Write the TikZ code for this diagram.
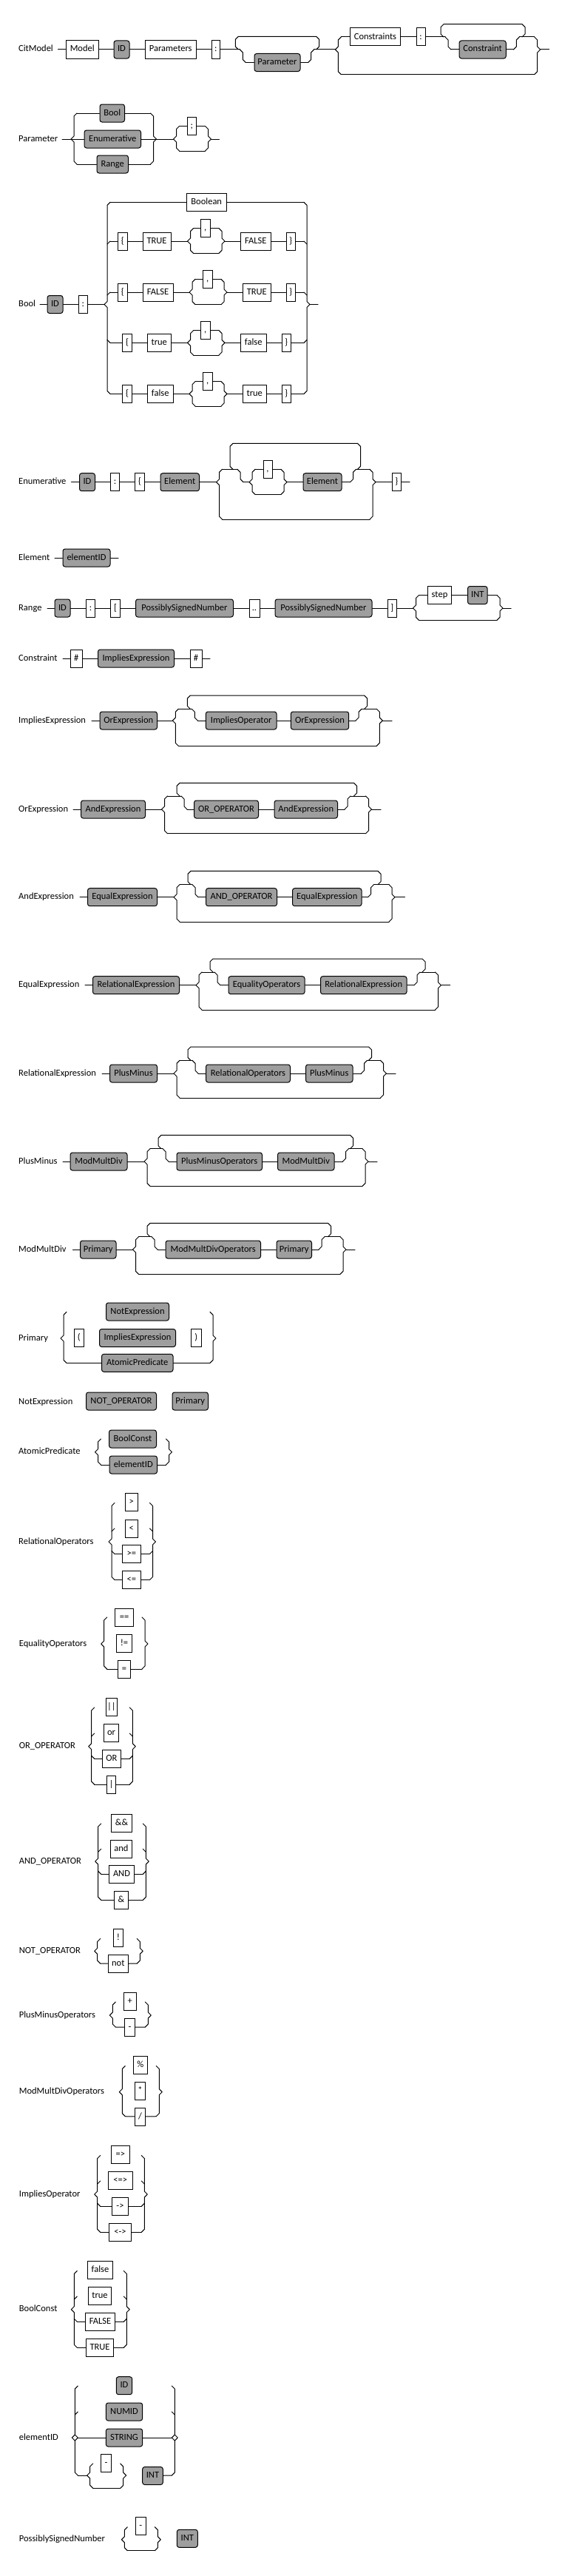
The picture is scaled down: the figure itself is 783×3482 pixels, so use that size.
\documentclass[tikz,border=0pt]{standalone}
\usepackage{fontspec}
\setmainfont{Carlito}
\definecolor{boxgray}{RGB}{158,158,158}
\newcommand\rrfont{\fontsize{12.5pt}{15pt}\selectfont}
\newcommand\rrc{4}
\newcommand\rrt{4}
\tikzset{
 rail/.style={line width=1pt, line cap=round, line join=round},
 tbox/.style={draw, line width=1pt, fill=white, inner sep=0pt, minimum height=24pt, text height=8.5pt, text depth=2.5pt, font=\rrfont},
 gbox/.style={tbox, fill=boxgray, rounded corners=3pt},
 lbl/.style={anchor=west, inner sep=0pt, font=\rrfont, text height=8.5pt, text depth=2.5pt},
}
% box: style, name, x1, x2, y, text
\newcommand\rrbox[6]{\pgfmathsetmacro\rrw{#4-#3}\pgfmathsetmacro\rrx{(#3+#4)/2}\node[#1, minimum width=\rrw pt] (#2) at (\rrx,#5) {#6};}
% left brace: name, x, yT, yM, yB
\newcommand\rrlb[5]{%
 \coordinate (#1-t) at (#2+\rrc,#3);
 \coordinate (#1-b) at (#2+\rrc,#5);
 \coordinate (#1-m) at (#2-\rrt,#4);
 \draw[rail] (#1-t) -- (#2,#3+\rrc) -- (#2,#4-\rrc) -- (#1-m) -- (#2,#4+\rrc) -- (#2,#5-\rrc) -- (#1-b);}
% right brace
\newcommand\rrrb[5]{%
 \coordinate (#1-t) at (#2-\rrc,#3);
 \coordinate (#1-b) at (#2-\rrc,#5);
 \coordinate (#1-m) at (#2+\rrt,#4);
 \draw[rail] (#1-t) -- (#2,#3+\rrc) -- (#2,#4-\rrc) -- (#1-m) -- (#2,#4+\rrc) -- (#2,#5-\rrc) -- (#1-b);}
% joints: name, x, y, sign (+ above main, - below main)
\newcommand\rrlj[4]{\coordinate (#1) at (#2+\rrc,#3); \draw[rail] (#2,#3#4\rrc) -- (#1);}
\newcommand\rrrj[4]{\coordinate (#1) at (#2-\rrc,#3); \draw[rail] (#1) -- (#2,#3#4\rrc);}
% loop: name, xo, xi, xi2, xo2, yT, yM, yB
\newcommand\rrloop[8]{%
 \coordinate (#1-in) at (#3-\rrc,#7);
 \coordinate (#1-fs) at (#3+\rrc,#8);
 \coordinate (#1-fe) at (#4-\rrc,#8);
 \coordinate (#1-out) at (#4+\rrc,#7);
 \draw[rail] (#2+\rrc,#7) -- (#2,#7-\rrc) -- (#2,#6+\rrc) -- (#2+\rrc,#6) -- (#5-\rrc,#6) -- (#5,#6+\rrc) -- (#5,#7-\rrc) -- (#5-\rrc,#7);
 \draw[rail] (#1-in) -- (#3,#7+\rrc) -- (#3,#8-\rrc) -- (#1-fs);
 \draw[rail] (#1-fe) -- (#4,#8-\rrc) -- (#4,#7+\rrc) -- (#1-out);}
\begin{document}
\begin{tikzpicture}[x=1pt,y=-1pt]
\useasboundingbox (0,0) rectangle (783,3482);
\fill[white] (0,0) rectangle (783,3482);

% ---------- CitModel
\node[lbl] (L1) at (25,67) {CitModel};
\coordinate (s1) at (78.5,67);
\rrbox{tbox}{model}{89}{133.5}{67}{Model}
\rrbox{gbox}{idA}{154}{175}{67}{ID}
\rrbox{tbox}{params}{196.5}{265}{67}{Parameters}
\rrbox{tbox}{colA}{286}{297.5}{67}{:}
\rrloop{lpA}{318.3}{328.3}{420.7}{431.7}{49.3}{67}{84.5}
\rrbox{gbox}{param}{344}{406}{84.5}{Parameter}
\rrlb{obA}{457.3}{50}{67}{100.7}
\rrbox{tbox}{constrs}{473.3}{541.7}{50}{Constraints}
\rrbox{tbox}{colB}{563.3}{575}{50}{:}
\rrloop{lpB}{596}{606}{698.3}{710}{32.7}{50}{67}
\rrbox{gbox}{cons}{621}{684.3}{67}{Constraint}
\rrrb{obB}{726.7}{50}{67}{100.7}
\coordinate (e1) at (742.7,67);
\draw[rail] (s1) -- (model); \draw[rail] (model) -- (idA); \draw[rail] (idA) -- (params);
\draw[rail] (params) -- (colA); \draw[rail] (colA) -- (lpA-in);
\draw[rail] (lpA-fs) -- (param); \draw[rail] (param) -- (lpA-fe);
\draw[rail] (lpA-out) -- (obA-m);
\draw[rail] (obA-t) -- (constrs); \draw[rail] (constrs) -- (colB); \draw[rail] (colB) -- (lpB-in);
\draw[rail] (lpB-fs) -- (cons); \draw[rail] (cons) -- (lpB-fe);
\draw[rail] (lpB-out) -- (obB-t); \draw[rail] (obA-b) -- (obB-b);
\draw[rail] (obB-m) -- (e1);

% ---------- Parameter
\node[lbl] (L2) at (25,188) {Parameter};
\coordinate (s2) at (84,188);
\rrlb{pb1}{100}{153}{188}{222}
\rrbox{gbox}{pbool}{135}{168.5}{153}{Bool}
\rrbox{gbox}{penum}{114}{190.5}{188}{Enumerative}
\rrbox{gbox}{prange}{131}{173.5}{222}{Range}
\rrrb{pb2}{207.5}{153}{188}{222}
\rrlb{pc1}{238.5}{170.5}{188}{204}
\rrbox{tbox}{psemi}{253.5}{265}{170.5}{;}
\rrrb{pc2}{281.5}{170.5}{188}{204}
\coordinate (e2) at (296.5,188);
\draw[rail] (s2) -- (pb1-m);
\draw[rail] (pb1-t) -- (pbool); \draw[rail] (pbool) -- (pb2-t);
\draw[rail] (pb1-m) -- (penum); \draw[rail] (penum) -- (pb2-m);
\draw[rail] (pb1-b) -- (prange); \draw[rail] (prange) -- (pb2-b);
\draw[rail] (pb2-m) -- (pc1-m);
\draw[rail] (pc1-t) -- (psemi); \draw[rail] (psemi) -- (pc2-t);
\draw[rail] (pc1-b) -- (pc2-b);
\draw[rail] (pc2-m) -- (e2);

% ---------- Bool
\node[lbl] (L3) at (25,411.5) {Bool};
\coordinate (s3) at (54,411.5);
\rrbox{gbox}{bid}{64}{85}{411.5}{ID}
\rrbox{tbox}{bcol}{106}{118.5}{411.5}{:}
\rrlb{bb1}{145}{273.3}{411.5}{532.3}
\rrrb{bb2}{415}{273.3}{411.5}{532.3}
\rrlj{b2l}{145}{326}{+} \rrrj{b2r}{415}{326}{+}
\rrlj{b3l}{145}{395}{+} \rrrj{b3r}{415}{395}{+}
\rrlj{b4l}{145}{463.3}{-} \rrrj{b4r}{415}{463.3}{-}
\coordinate (e3) at (430,411.5);
\rrbox{tbox}{boolean}{252.5}{306}{273.3}{Boolean}
% branch 2
\rrbox{tbox}{lc2}{159}{172.5}{326}{\{}
\rrbox{tbox}{tr2}{193}{231}{326}{TRUE}
\rrlb{c2a}{257.5}{308.7}{326}{342.3}
\rrbox{tbox}{cm2}{271.5}{284}{308.7}{,}
\rrrb{c2b}{300}{308.7}{326}{342.3}
\rrbox{tbox}{fa2}{325.5}{366}{326}{FALSE}
\rrbox{tbox}{rc2}{387}{399}{326}{\}}
% branch 3
\rrbox{tbox}{lc3}{159}{172.5}{395}{\{}
\rrbox{tbox}{fa3}{193}{234}{395}{FALSE}
\rrlb{c3a}{260}{377.3}{395}{411.7}
\rrbox{tbox}{cm3}{274.5}{287}{377.3}{,}
\rrrb{c3b}{303}{377.3}{395}{411.7}
\rrbox{tbox}{tr3}{328.5}{366}{395}{TRUE}
\rrbox{tbox}{rc3}{387}{399}{395}{\}}
% branch 4
\rrbox{tbox}{lc4}{165.5}{178.5}{463.3}{\{}
\rrbox{tbox}{tr4}{199.5}{231}{463.3}{true}
\rrlb{c4a}{257.5}{446.7}{463.3}{480}
\rrbox{tbox}{cm4}{271.5}{284}{446.7}{,}
\rrrb{c4b}{300}{446.7}{463.3}{480}
\rrbox{tbox}{fa4}{325.5}{360}{463.3}{false}
\rrbox{tbox}{rc4}{381}{393}{463.3}{\}}
% branch 5
\rrbox{tbox}{lc5}{165.5}{178.5}{532.3}{\{}
\rrbox{tbox}{fa5}{199.5}{234}{532.3}{false}
\rrlb{c5a}{260}{515.7}{532.3}{549}
\rrbox{tbox}{cm5}{274.5}{287}{515.7}{,}
\rrrb{c5b}{303}{515.7}{532.3}{549}
\rrbox{tbox}{tr5}{328.5}{360}{532.3}{true}
\rrbox{tbox}{rc5}{381}{393}{532.3}{\}}
\draw[rail] (s3) -- (bid); \draw[rail] (bid) -- (bcol); \draw[rail] (bcol) -- (bb1-m);
\draw[rail] (bb1-t) -- (boolean); \draw[rail] (boolean) -- (bb2-t);
\draw[rail] (b2l) -- (lc2); \draw[rail] (lc2) -- (tr2); \draw[rail] (tr2) -- (c2a-m);
\draw[rail] (c2a-t) -- (cm2); \draw[rail] (cm2) -- (c2b-t); \draw[rail] (c2a-b) -- (c2b-b);
\draw[rail] (c2b-m) -- (fa2); \draw[rail] (fa2) -- (rc2); \draw[rail] (rc2) -- (b2r);
\draw[rail] (b3l) -- (lc3); \draw[rail] (lc3) -- (fa3); \draw[rail] (fa3) -- (c3a-m);
\draw[rail] (c3a-t) -- (cm3); \draw[rail] (cm3) -- (c3b-t); \draw[rail] (c3a-b) -- (c3b-b);
\draw[rail] (c3b-m) -- (tr3); \draw[rail] (tr3) -- (rc3); \draw[rail] (rc3) -- (b3r);
\draw[rail] (b4l) -- (lc4); \draw[rail] (lc4) -- (tr4); \draw[rail] (tr4) -- (c4a-m);
\draw[rail] (c4a-t) -- (cm4); \draw[rail] (cm4) -- (c4b-t); \draw[rail] (c4a-b) -- (c4b-b);
\draw[rail] (c4b-m) -- (fa4); \draw[rail] (fa4) -- (rc4); \draw[rail] (rc4) -- (b4r);
\draw[rail] (bb1-b) -- (lc5); \draw[rail] (lc5) -- (fa5); \draw[rail] (fa5) -- (c5a-m);
\draw[rail] (c5a-t) -- (cm5); \draw[rail] (cm5) -- (c5b-t); \draw[rail] (c5a-b) -- (c5b-b);
\draw[rail] (c5b-m) -- (tr5); \draw[rail] (tr5) -- (rc5); \draw[rail] (rc5) -- (bb2-b);
\draw[rail] (bb2-m) -- (e3);

% ---------- Enumerative
\node[lbl] (L4) at (25,651.7) {Enumerative};
\coordinate (s4) at (96.5,651.7);
\rrbox{gbox}{eid}{107.5}{128.5}{651.7}{ID}
\rrbox{tbox}{ecol}{149.5}{161.5}{651.7}{:}
\rrbox{tbox}{elc}{182.5}{195.5}{651.7}{\{}
\rrbox{gbox}{eel1}{217}{269.5}{651.7}{Element}
\rrlb{eb1}{296.5}{634.3}{651.7}{702}
\rrloop{elp}{311}{325}{477.5}{487.5}{599.3}{634.3}{651.7}
\rrlb{ec1}{341}{634.3}{651.7}{668.3}
\rrbox{tbox}{ecm}{356}{368}{634.3}{,}
\rrrb{ec2}{384}{634.3}{651.7}{668.3}
\rrbox{gbox}{eel2}{410}{462}{651.7}{Element}
\rrrb{eb2}{504}{634.3}{651.7}{702}
\rrbox{tbox}{erc}{530}{542.5}{651.7}{\}}
\coordinate (e4) at (554,651.7);
\draw[rail] (s4) -- (eid); \draw[rail] (eid) -- (ecol); \draw[rail] (ecol) -- (elc);
\draw[rail] (elc) -- (eel1); \draw[rail] (eel1) -- (eb1-m);
\draw[rail] (eb1-t) -- (elp-in); \draw[rail] (elp-fs) -- (ec1-m);
\draw[rail] (ec1-t) -- (ecm); \draw[rail] (ecm) -- (ec2-t); \draw[rail] (ec1-b) -- (ec2-b);
\draw[rail] (ec2-m) -- (eel2); \draw[rail] (eel2) -- (elp-fe);
\draw[rail] (elp-out) -- (eb2-t); \draw[rail] (eb1-b) -- (eb2-b);
\draw[rail] (eb2-m) -- (erc); \draw[rail] (erc) -- (e4);

% ---------- Element
\node[lbl] (L5) at (25,754) {Element};
\coordinate (s5) at (74,754);
\rrbox{gbox}{elid}{85}{149}{754}{elementID}
\coordinate (e5) at (160,754);
\draw[rail] (s5) -- (elid); \draw[rail] (elid) -- (e5);

% ---------- Range
\node[lbl] (L6) at (25,822) {Range};
\coordinate (s6) at (64,822);
\rrbox{gbox}{rid}{74}{95}{822}{ID}
\rrbox{tbox}{rcol}{116.5}{128.5}{822}{:}
\rrbox{tbox}{rlb}{149.5}{162.5}{822}{[}
\rrbox{gbox}{rpsn1}{183.5}{315.5}{822}{PossiblySignedNumber}
\rrbox{tbox}{rdots}{337}{351}{822}{..}
\rrbox{gbox}{rpsn2}{372}{503}{822}{PossiblySignedNumber}
\rrbox{tbox}{rrbk}{524}{536.5}{822}{]}
\rrlb{rb1}{562.5}{804.5}{822}{838.3}
\rrbox{tbox}{rstep}{578.5}{610.5}{804.5}{step}
\rrbox{gbox}{rint}{632.5}{659}{804.5}{INT}
\rrrb{rb2}{676}{804.5}{822}{838.3}
\coordinate (e6) at (691,822);
\draw[rail] (s6) -- (rid); \draw[rail] (rid) -- (rcol); \draw[rail] (rcol) -- (rlb);
\draw[rail] (rlb) -- (rpsn1); \draw[rail] (rpsn1) -- (rdots); \draw[rail] (rdots) -- (rpsn2);
\draw[rail] (rpsn2) -- (rrbk); \draw[rail] (rrbk) -- (rb1-m);
\draw[rail] (rb1-t) -- (rstep); \draw[rail] (rstep) -- (rint); \draw[rail] (rint) -- (rb2-t);
\draw[rail] (rb1-b) -- (rb2-b); \draw[rail] (rb2-m) -- (e6);

% ---------- Constraint
\node[lbl] (L7) at (25,890) {Constraint};
\coordinate (s7) at (85,890);
\rrbox{tbox}{ch1}{95.5}{111}{890}{\#}
\rrbox{gbox}{cimp}{132.5}{235.5}{890}{ImpliesExpression}
\rrbox{tbox}{ch2}{257}{273}{890}{\#}
\coordinate (e7) at (284,890);
\draw[rail] (s7) -- (ch1); \draw[rail] (ch1) -- (cimp); \draw[rail] (cimp) -- (ch2); \draw[rail] (ch2) -- (e7);

% ---------- ImpliesExpression
\node[lbl] (L8) at (25,974) {ImpliesExpression};
\coordinate (s8) at (124,974);
\rrbox{gbox}{ior1}{135}{212.5}{974}{OrExpression}
\rrlb{ie1}{237.3}{958.3}{974}{1008.3}
\rrloop{iel}{253.3}{263.3}{485}{496.7}{940}{958.3}{974}
\rrbox{gbox}{iop}{278.3}{374}{974}{ImpliesOperator}
\rrbox{gbox}{ior2}{393.3}{471.7}{974}{OrExpression}
\rrrb{ie2}{513.3}{958.3}{974}{1008.3}
\coordinate (e8) at (530,974);
\draw[rail] (s8) -- (ior1); \draw[rail] (ior1) -- (ie1-m);
\draw[rail] (ie1-t) -- (iel-in); \draw[rail] (iel-fs) -- (iop); \draw[rail] (iop) -- (ior2);
\draw[rail] (ior2) -- (iel-fe); \draw[rail] (iel-out) -- (ie2-t);
\draw[rail] (ie1-b) -- (ie2-b); \draw[rail] (ie2-m) -- (e8);

% ---------- OrExpression
\node[lbl] (L9) at (25,1094) {OrExpression};
\coordinate (s9) at (99,1094);
\rrbox{gbox}{oae1}{109.5}{196.5}{1094}{AndExpression}
\rrlb{oe1}{222.5}{1076}{1094}{1126.7}
\rrloop{oel}{239}{249}{470}{482.5}{1058.3}{1076}{1094}
\rrbox{gbox}{oop}{262.5}{349.5}{1094}{OR\_OPERATOR}
\rrbox{gbox}{oae2}{371}{456.5}{1094}{AndExpression}
\rrrb{oe2}{498.5}{1076}{1094}{1126.7}
\coordinate (e9) at (515,1094);
\draw[rail] (s9) -- (oae1); \draw[rail] (oae1) -- (oe1-m);
\draw[rail] (oe1-t) -- (oel-in); \draw[rail] (oel-fs) -- (oop); \draw[rail] (oop) -- (oae2);
\draw[rail] (oae2) -- (oel-fe); \draw[rail] (oel-out) -- (oe2-t);
\draw[rail] (oe1-b) -- (oe2-b); \draw[rail] (oe2-m) -- (e9);

% ---------- AndExpression
\node[lbl] (L10) at (25,1212.7) {AndExpression};
\coordinate (s10) at (108,1212.7);
\rrbox{gbox}{aee1}{118.5}{212.5}{1212.7}{EqualExpression}
\rrlb{ae1}{239}{1195.7}{1212.7}{1246}
\rrloop{ael}{254}{264}{501.5}{515}{1177.3}{1195.7}{1212.7}
\rrbox{gbox}{aop}{278.5}{374.5}{1212.7}{AND\_OPERATOR}
\rrbox{gbox}{aee2}{395.5}{489}{1212.7}{EqualExpression}
\rrrb{ae2}{530}{1195.7}{1212.7}{1246}
\coordinate (e10) at (547.5,1212.7);
\draw[rail] (s10) -- (aee1); \draw[rail] (aee1) -- (ae1-m);
\draw[rail] (ae1-t) -- (ael-in); \draw[rail] (ael-fs) -- (aop); \draw[rail] (aop) -- (aee2);
\draw[rail] (aee2) -- (ael-fe); \draw[rail] (ael-out) -- (ae2-t);
\draw[rail] (ae1-b) -- (ae2-b); \draw[rail] (ae2-m) -- (e10);

% ---------- EqualExpression
\node[lbl] (L11) at (25,1331.7) {EqualExpression};
\coordinate (s11) at (115,1331.7);
\rrbox{gbox}{ere1}{125.5}{242.5}{1331.7}{RelationalExpression}
\rrlb{ee1}{269}{1314}{1331.7}{1365}
\rrloop{eel}{284}{294}{564}{575}{1296}{1314}{1331.7}
\rrbox{gbox}{eop}{309}{412}{1331.7}{EqualityOperators}
\rrbox{gbox}{ere2}{433.5}{550}{1331.7}{RelationalExpression}
\rrrb{ee2}{592.5}{1314}{1331.7}{1365}
\coordinate (e11) at (608.5,1331.7);
\draw[rail] (s11) -- (ere1); \draw[rail] (ere1) -- (ee1-m);
\draw[rail] (ee1-t) -- (eel-in); \draw[rail] (eel-fs) -- (eop); \draw[rail] (eop) -- (ere2);
\draw[rail] (ere2) -- (eel-fe); \draw[rail] (eel-out) -- (ee2-t);
\draw[rail] (ee1-b) -- (ee2-b); \draw[rail] (ee2-m) -- (e11);

% ---------- RelationalExpression
\node[lbl] (L12) at (25,1451) {RelationalExpression};
\coordinate (s12) at (138,1451);
\rrbox{gbox}{rpm1}{148.5}{212.5}{1451}{PlusMinus}
\rrlb{re1}{239}{1433.3}{1451}{1484}
\rrloop{rel}{254}{264}{492.5}{502.5}{1415}{1433.3}{1451}
\rrbox{gbox}{rop}{278.5}{392.5}{1451}{RelationalOperators}
\rrbox{gbox}{rpm2}{413.5}{477}{1451}{PlusMinus}
\rrrb{re2}{518.5}{1433.3}{1451}{1484}
\coordinate (e12) at (535,1451);
\draw[rail] (s12) -- (rpm1); \draw[rail] (rpm1) -- (re1-m);
\draw[rail] (re1-t) -- (rel-in); \draw[rail] (rel-fs) -- (rop); \draw[rail] (rop) -- (rpm2);
\draw[rail] (rpm2) -- (rel-fe); \draw[rail] (rel-out) -- (re2-t);
\draw[rail] (re1-b) -- (re2-b); \draw[rail] (re2-m) -- (e12);

% ---------- PlusMinus
\node[lbl] (L13) at (25,1570) {PlusMinus};
\coordinate (s13) at (85,1570);
\rrbox{gbox}{pmd1}{95}{172}{1570}{ModMultDiv}
\rrlb{pm1}{199}{1552.7}{1570}{1603.3}
\rrloop{pml}{214}{224}{467.5}{477.5}{1534.3}{1552.7}{1570}
\rrbox{gbox}{pop}{239}{354.5}{1570}{PlusMinusOperators}
\rrbox{gbox}{pmd2}{375.5}{452}{1570}{ModMultDiv}
\rrrb{pm2}{494}{1552.7}{1570}{1603.3}
\coordinate (e13) at (510,1570);
\draw[rail] (s13) -- (pmd1); \draw[rail] (pmd1) -- (pm1-m);
\draw[rail] (pm1-t) -- (pml-in); \draw[rail] (pml-fs) -- (pop); \draw[rail] (pop) -- (pmd2);
\draw[rail] (pmd2) -- (pml-fe); \draw[rail] (pml-out) -- (pm2-t);
\draw[rail] (pm1-b) -- (pm2-b); \draw[rail] (pm2-m) -- (e13);

% ---------- ModMultDiv
\node[lbl] (L14) at (25,1689) {ModMultDiv};
\coordinate (s14) at (98.5,1689);
\rrbox{gbox}{mpr1}{108.5}{157}{1689}{Primary}
\rrlb{md1}{183.5}{1671.7}{1689}{1722.3}
\rrloop{mdl}{199}{209}{435}{447.5}{1653.3}{1671.7}{1689}
\rrbox{gbox}{mop}{224}{352.5}{1689}{ModMultDivOperators}
\rrbox{gbox}{mpr2}{374}{421.5}{1689}{Primary}
\rrrb{md2}{464}{1671.7}{1689}{1722.3}
\coordinate (e14) at (480,1689);
\draw[rail] (s14) -- (mpr1); \draw[rail] (mpr1) -- (md1-m);
\draw[rail] (md1-t) -- (mdl-in); \draw[rail] (mdl-fs) -- (mop); \draw[rail] (mop) -- (mpr2);
\draw[rail] (mpr2) -- (mdl-fe); \draw[rail] (mdl-out) -- (md2-t);
\draw[rail] (md1-b) -- (md2-b); \draw[rail] (md2-m) -- (e14);

% ---------- Primary
\node[lbl] (L15) at (25,1809) {Primary};
\rrlb{pr1}{86}{1773.3}{1809}{1842.3}
\rrrb{pr2}{288}{1773.3}{1809}{1842.3}
\rrbox{gbox}{pnot}{143.5}{228.5}{1773}{NotExpression}
\rrbox{tbox}{plp}{100}{113.5}{1808.5}{(}
\rrbox{gbox}{pimp}{134.5}{237.5}{1808.5}{ImpliesExpression}
\rrbox{tbox}{prp}{258.5}{272}{1808.5}{)}
\rrbox{gbox}{patom}{137.5}{234}{1842.3}{AtomicPredicate}
\draw[rail] (pr1-b) -- (patom); \draw[rail] (patom) -- (pr2-b);

% ---------- NotExpression
\node[lbl] (L16) at (25,1895) {NotExpression};
\rrbox{gbox}{nop}{116.5}{211.5}{1894}{NOT\_OPERATOR}
\rrbox{gbox}{npr}{233}{281.5}{1894}{Primary}

% ---------- AtomicPredicate
\node[lbl] (L17) at (25,1962.7) {AtomicPredicate};
\rrlb{ap1}{132.5}{1945}{1962.7}{1980}
\rrrb{ap2}{228.5}{1945}{1962.7}{1980}
\rrbox{gbox}{abc}{147.5}{211.5}{1945}{BoolConst}
\rrbox{gbox}{aeid}{148}{212.5}{1980}{elementID}
\draw[rail] (ap1-b) -- (aeid); \draw[rail] (aeid) -- (ap2-b);

% ---------- RelationalOperators
\node[lbl] (L18) at (25,2084) {RelationalOperators};
\rrlb{ro1}{151}{2031.5}{2084}{2135.5}
\rrrb{ro2}{206.5}{2031.5}{2084}{2135.5}
\rrlj{ro3l}{151}{2066}{+} \rrrj{ro3r}{206.5}{2066}{+}
\rrlj{ro4l}{151}{2100.5}{-} \rrrj{ro4r}{206.5}{2100.5}{-}
\rrbox{tbox}{rgt}{169}{186.5}{2030.5}{>}
\rrbox{tbox}{rlt}{169}{186.5}{2066}{<}
\rrbox{tbox}{rge}{165}{190.5}{2100.5}{>=}
\rrbox{tbox}{rle}{165}{190.5}{2135.5}{<=}
\draw[rail] (ro4l) -- (rge); \draw[rail] (rge) -- (ro4r);
\draw[rail] (ro1-b) -- (rle); \draw[rail] (rle) -- (ro2-b);

% ---------- EqualityOperators
\node[lbl] (L19) at (25.7,2222) {EqualityOperators};
\rrlb{eo1}{140.7}{2186}{2222}{2256}
\rrrb{eo2}{196}{2186}{2222}{2256}
\rrbox{tbox}{qeq}{155.5}{180.5}{2186}{==}
\rrbox{tbox}{qne}{157.3}{178.7}{2221.5}{!=}
\rrbox{tbox}{qas}{159.3}{176.7}{2256}{=}
\draw[rail] (eo1-b) -- (qas); \draw[rail] (qas) -- (eo2-b);

% ---------- OR_OPERATOR
\node[lbl] (L20) at (25.7,2360.7) {OR\_OPERATOR};
\rrlb{or1}{123.7}{2308}{2360.7}{2412}
\rrrb{or2}{179.3}{2308}{2360.7}{2412}
\rrlj{or3l}{123.7}{2343}{+} \rrrj{or3r}{179.3}{2343}{+}
\rrlj{or4l}{123.7}{2377.3}{-} \rrrj{or4r}{179.3}{2377.3}{-}
\rrbox{tbox}{obb}{143.3}{158.7}{2307}{||}
\rrbox{tbox}{oor}{140.3}{160.7}{2342.3}{or}
\rrbox{tbox}{oOR}{138.3}{163.7}{2377.3}{OR}
\rrbox{tbox}{ob}{144.3}{156.7}{2412}{|}
\draw[rail] (or4l) -- (oOR); \draw[rail] (oOR) -- (or4r);
\draw[rail] (or1-b) -- (ob); \draw[rail] (ob) -- (or2-b);

% ---------- AND_OPERATOR
\node[lbl] (L21) at (25.7,2516) {AND\_OPERATOR};
\rrlb{an1}{132.7}{2465}{2516}{2568.3}
\rrrb{an2}{197.3}{2465}{2516}{2568.3}
\rrlj{an3l}{132.7}{2499.3}{+} \rrrj{an3r}{197.3}{2499.3}{+}
\rrlj{an4l}{132.7}{2533.3}{-} \rrrj{an4r}{197.3}{2533.3}{-}
\rrbox{tbox}{aaa}{150.3}{178.7}{2464}{\&\&}
\rrbox{tbox}{aand}{149}{178.7}{2499.3}{and}
\rrbox{tbox}{aAND}{147.3}{181.7}{2533.3}{AND}
\rrbox{tbox}{aa}{154.3}{173.7}{2568.3}{\&}
\draw[rail] (an4l) -- (aAND); \draw[rail] (aAND) -- (an4r);
\draw[rail] (an1-b) -- (aa); \draw[rail] (aa) -- (an2-b);

% ---------- NOT_OPERATOR
\node[lbl] (L22) at (25.7,2637.3) {NOT\_OPERATOR};
\rrlb{no1}{131.7}{2620.5}{2637.3}{2654}
\rrrb{no2}{189.3}{2620.5}{2637.3}{2654}
\rrbox{tbox}{nex}{153.3}{166.7}{2619.5}{!}
\rrbox{tbox}{nnot}{146}{173.7}{2654.5}{not}
\draw[rail] (no1-b) -- (nnot); \draw[rail] (nnot) -- (no2-b);

% ---------- PlusMinusOperators
\node[lbl] (L23) at (25.7,2724) {PlusMinusOperators};
\rrlb{po1}{152.3}{2706}{2724}{2740}
\rrrb{po2}{200.3}{2706}{2724}{2740}
\rrbox{tbox}{pplus}{167.3}{184.3}{2705.3}{+}
\rrbox{tbox}{pminus}{168.3}{182.7}{2740.3}{-}
\draw[rail] (po1-b) -- (pminus); \draw[rail] (pminus) -- (po2-b);

% ---------- ModMultDivOperators
\node[lbl] (L24) at (25.7,2827.7) {ModMultDivOperators};
\rrlb{mo1}{165.3}{2792.5}{2827.7}{2860.7}
\rrrb{mo2}{215.3}{2792.5}{2827.7}{2860.7}
\rrbox{tbox}{mpct}{180.3}{199.3}{2791.3}{\%}
\rrbox{tbox}{mstar}{182.3}{196.7}{2826.3}{*}
\rrbox{tbox}{mdiv}{182.3}{196.7}{2861}{/}
\draw[rail] (mo1-b) -- (mdiv); \draw[rail] (mdiv) -- (mo2-b);

% ---------- ImpliesOperator
\node[lbl] (L25) at (25.7,2966) {ImpliesOperator};
\rrlb{io1}{131.7}{2913.5}{2966}{3017.3}
\rrrb{io2}{195.3}{2913.5}{2966}{3017.3}
\rrlj{io3l}{131.7}{2948}{+} \rrrj{io3r}{195.3}{2948}{+}
\rrlj{io4l}{131.7}{2982.3}{-} \rrrj{io4r}{195.3}{2982.3}{-}
\rrbox{tbox}{iimp}{150.3}{175.3}{2912}{=>}
\rrbox{tbox}{ieqv}{146.3}{179.3}{2947}{<=>}
\rrbox{tbox}{iar}{151.3}{173.7}{2982.3}{->}
\rrbox{tbox}{ibar}{147.3}{177.7}{3017.3}{<->}
\draw[rail] (io4l) -- (iar); \draw[rail] (iar) -- (io4r);
\draw[rail] (io1-b) -- (ibar); \draw[rail] (ibar) -- (io2-b);

% ---------- BoolConst
\node[lbl] (L26) at (25.7,3121.7) {BoolConst};
\rrlb{bc1}{100.3}{3069.5}{3121.7}{3173.3}
\rrrb{bc2}{171.3}{3069.5}{3121.7}{3173.3}
\rrlj{bc3l}{100.3}{3104}{+} \rrrj{bc3r}{171.3}{3104}{+}
\rrlj{bc4l}{100.3}{3138.3}{-} \rrrj{bc4r}{171.3}{3138.3}{-}
\rrbox{tbox}{kf}{118.3}{152.7}{3068.5}{false}
\rrbox{tbox}{kt}{119.3}{150.7}{3103.3}{true}
\rrbox{tbox}{kF}{115.3}{155.7}{3138.3}{FALSE}
\rrbox{tbox}{kT}{116.3}{153.7}{3173.3}{TRUE}
\draw[rail] (bc4l) -- (kF); \draw[rail] (kF) -- (bc4r);
\draw[rail] (bc1-b) -- (kT); \draw[rail] (kT) -- (bc2-b);

% ---------- elementID
\node[lbl] (L27) at (25.7,3295) {elementID};
\rrlb{ei1}{101.3}{3225}{3295}{3346}
\rrrb{ei2}{236.3}{3225}{3295}{3346}
\rrlj{ei3l}{101.3}{3260}{+} \rrrj{ei3r}{236.3}{3260}{+}
\coordinate (eiL) at (105.3,3295);
\coordinate (eiR) at (232.3,3295);
\draw[rail] (101.3,3291) -- (eiL) -- (101.3,3299);
\draw[rail] (236.3,3291) -- (eiR) -- (236.3,3299);
\rrbox{gbox}{xid}{157.3}{178.7}{3224.7}{ID}
\rrbox{gbox}{xnum}{143.3}{192.7}{3260}{NUMID}
\rrbox{gbox}{xstr}{143.3}{192.7}{3295}{STRING}
\rrlb{em1}{121.7}{3330}{3346}{3363.3}
\rrbox{tbox}{xmin}{136.3}{150.7}{3329}{-}
\rrrb{em2}{166.7}{3330}{3346}{3363.3}
\rrbox{gbox}{xint}{192.7}{220.3}{3346.5}{INT}
\draw[rail] (eiL) -- (xstr); \draw[rail] (xstr) -- (eiR);
\draw[rail] (ei1-b) -- (em1-m); \draw[rail] (em1-b) -- (em2-b);
\draw[rail] (xint) -- (ei2-b);

% ---------- PossiblySignedNumber
\node[lbl] (L28) at (25.7,3432.7) {PossiblySignedNumber};
\rrlb{ps1}{168.3}{3415.7}{3432.7}{3447.7}
\rrbox{tbox}{smin}{183.3}{197.3}{3414}{-}
\rrrb{ps2}{213.3}{3415.7}{3432.7}{3447.7}
\rrbox{gbox}{sint}{239.3}{267.3}{3431.3}{INT}
\draw[rail] (ps1-b) -- (ps2-b);
\end{tikzpicture}
\end{document}
